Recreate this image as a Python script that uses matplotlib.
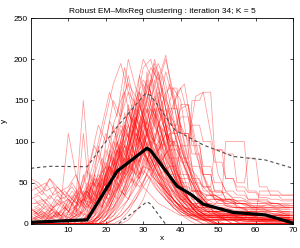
import matplotlib
matplotlib.use("Agg")
import matplotlib.pyplot as plt
import numpy as np

plt.rcParams['font.family'] = ['Liberation Sans', 'DejaVu Sans']

# red curves sampled at x = 0, 2, 4, ..., 70
curves_even = [
    [0, 0, 0, 0, 0, 0, 0, 2, 8, 20, 45, 70, 95, 120, 150, 175, 160, 130, 90, 60, 35, 20, 10, 10, 8, 8, 5, 5, 5, 5, 5, 5, 5, 5, 5, 5],
    [0, 0, 0, 0, 0, 0, 0, 0, 5, 15, 30, 55, 80, 110, 140, 190, 200, 165, 120, 80, 50, 30, 15, 8, 4, 0, 0, 0, 0, 0, 0, 0, 0, 0, 0, 0],
    [5, 0, 0, 0, 0, 0, 0, 0, 0, 10, 25, 40, 70, 90, 130, 110, 150, 185, 140, 95, 70, 40, 25, 12, 12, 10, 10, 10, 8, 8, 8, 8, 8, 6, 6, 6],
    [0, 0, 0, 0, 0, 2, 4, 6, 20, 40, 70, 100, 130, 160, 145, 120, 95, 70, 50, 30, 18, 10, 5, 0, 0, 0, 0, 0, 0, 0, 0, 0, 0, 0, 0, 0],
    [0, 0, 0, 0, 0, 0, 0, 0, 0, 5, 12, 30, 50, 75, 100, 135, 170, 195, 170, 130, 95, 60, 40, 20, 12, 15, 15, 12, 12, 10, 10, 10, 12, 12, 10, 10],
    [0, 0, 0, 0, 0, 0, 2, 5, 12, 30, 55, 90, 120, 105, 140, 125, 100, 80, 60, 40, 28, 15, 10, 5, 0, 0, 0, 0, 0, 0, 0, 0, 0, 0, 0, 0],
    [0, 0, 0, 0, 0, 0, 0, 0, 3, 8, 20, 35, 55, 80, 110, 95, 130, 160, 150, 115, 80, 55, 30, 18, 18, 20, 20, 15, 15, 15, 18, 18, 15, 15, 12, 12],
    [0, 0, 0, 0, 0, 0, 0, 0, 0, 0, 10, 25, 45, 65, 90, 120, 110, 140, 185, 150, 100, 70, 45, 25, 15, 10, 5, 0, 0, 0, 0, 0, 0, 0, 0, 0],
    [10, 5, 0, 0, 0, 0, 0, 0, 10, 25, 60, 85, 110, 135, 120, 100, 75, 55, 35, 20, 12, 5, 0, 0, 0, 0, 0, 0, 0, 0, 0, 0, 0, 0, 0, 0],
    [0, 0, 0, 0, 0, 0, 0, 5, 15, 35, 50, 75, 100, 90, 125, 150, 175, 140, 110, 75, 50, 30, 20, 25, 25, 22, 22, 20, 20, 18, 18, 16, 16, 14, 14, 14],
    [0, 0, 0, 0, 0, 0, 0, 0, 0, 5, 15, 20, 35, 55, 70, 85, 100, 95, 80, 60, 45, 30, 20, 12, 8, 4, 0, 0, 0, 0, 0, 0, 0, 0, 0, 0],
    [0, 0, 0, 0, 0, 0, 0, 0, 0, 10, 30, 50, 60, 80, 75, 95, 85, 70, 55, 40, 25, 15, 8, 4, 4, 6, 6, 4, 4, 3, 3, 3, 2, 2, 2, 2],
    [0, 0, 0, 0, 0, 0, 0, 0, 5, 8, 20, 45, 70, 100, 160, 200, 180, 150, 110, 70, 40, 25, 15, 8, 3, 0, 0, 0, 0, 0, 0, 0, 0, 0, 0, 0],
    [0, 0, 0, 0, 0, 0, 0, 0, 0, 0, 5, 15, 30, 50, 80, 60, 90, 120, 140, 125, 95, 70, 50, 35, 20, 28, 28, 25, 25, 22, 22, 22, 25, 25, 20, 20],
    [0, 0, 0, 0, 0, 0, 0, 0, 0, 0, 0, 10, 25, 40, 55, 70, 65, 90, 110, 100, 80, 60, 40, 30, 20, 15, 10, 5, 0, 0, 0, 0, 0, 0, 0, 0],
    [0, 0, 0, 0, 0, 5, 10, 15, 25, 45, 80, 120, 150, 170, 155, 130, 110, 85, 65, 45, 30, 20, 10, 5, 0, 0, 0, 0, 0, 0, 0, 0, 0, 0, 0, 0],
    [0, 0, 0, 0, 0, 0, 0, 0, 2, 5, 10, 20, 40, 30, 50, 65, 55, 40, 30, 20, 15, 10, 5, 5, 8, 8, 10, 10, 8, 8, 6, 6, 6, 6, 6, 6],
    [0, 0, 0, 0, 0, 0, 0, 0, 0, 0, 5, 20, 35, 60, 85, 110, 140, 125, 90, 65, 40, 25, 15, 10, 5, 0, 0, 0, 0, 0, 0, 0, 0, 0, 0, 0],
    [0, 0, 0, 0, 0, 0, 0, 0, 0, 8, 18, 35, 50, 65, 45, 80, 60, 50, 40, 25, 15, 10, 12, 12, 15, 15, 12, 12, 10, 10, 12, 12, 10, 10, 8, 8],
    [0, 0, 0, 0, 0, 0, 0, 0, 0, 0, 0, 5, 15, 30, 60, 95, 130, 170, 200, 160, 120, 80, 55, 30, 18, 10, 5, 0, 0, 0, 0, 0, 0, 0, 0, 0],
    [55, 50, 40, 45, 30, 35, 25, 40, 30, 55, 70, 60, 90, 110, 80, 130, 100, 75, 60, 45, 30, 25, 20, 15, 15, 10, 10, 8, 8, 5, 5, 5, 5, 5, 5, 5],
    [30, 35, 25, 20, 28, 15, 22, 30, 18, 35, 50, 80, 60, 95, 120, 90, 70, 55, 40, 30, 20, 18, 18, 12, 12, 12, 10, 10, 8, 8, 8, 6, 6, 6, 4, 4],
    [15, 20, 12, 18, 10, 22, 40, 25, 60, 35, 45, 70, 85, 65, 105, 140, 115, 90, 70, 50, 35, 25, 15, 10, 10, 5, 5, 5, 0, 0, 0, 0, 0, 0, 0, 0],
    [20, 10, 15, 8, 25, 110, 60, 30, 45, 55, 40, 65, 50, 75, 60, 45, 35, 25, 20, 15, 10, 10, 10, 5, 5, 5, 5, 5, 5, 5, 5, 5, 5, 5, 5, 5],
    [10, 15, 5, 20, 10, 15, 30, 150, 40, 30, 60, 90, 75, 120, 95, 110, 80, 60, 45, 30, 20, 15, 10, 5, 5, 0, 0, 0, 0, 0, 0, 0, 0, 0, 0, 0],
    [40, 45, 50, 35, 40, 45, 60, 35, 50, 45, 90, 70, 115, 85, 130, 100, 80, 60, 50, 40, 30, 25, 20, 20, 15, 15, 15, 12, 12, 10, 10, 10, 10, 10, 10, 10],
    [5, 8, 3, 10, 5, 12, 8, 110, 20, 50, 35, 60, 100, 135, 115, 155, 130, 110, 85, 60, 40, 30, 20, 15, 10, 8, 6, 5, 4, 3, 3, 3, 3, 3, 3, 3],
    [25, 25, 30, 20, 25, 30, 20, 30, 25, 40, 30, 55, 45, 70, 60, 85, 75, 55, 40, 30, 22, 15, 10, 8, 8, 8, 8, 6, 6, 6, 6, 6, 4, 4, 4, 4],
    [12, 18, 8, 14, 6, 30, 15, 60, 25, 95, 50, 120, 80, 145, 100, 125, 90, 65, 45, 30, 20, 12, 8, 5, 3, 0, 0, 0, 0, 0, 0, 0, 0, 0, 0, 0],
    [0, 0, 0, 0, 0, 0, 0, 0, 0, 0, 0, 5, 10, 20, 35, 50, 70, 95, 130, 165, 150, 90, 50, 30, 20, 20, 15, 15, 10, 10, 10, 10, 8, 8, 8, 8],
    [0, 0, 0, 0, 0, 0, 0, 0, 0, 0, 5, 10, 20, 30, 45, 60, 80, 100, 120, 110, 140, 145, 100, 60, 35, 25, 25, 20, 20, 15, 15, 15, 12, 12, 10, 10],
    [0, 0, 0, 0, 0, 0, 0, 0, 0, 0, 0, 0, 5, 15, 30, 50, 75, 90, 110, 95, 120, 100, 155, 160, 110, 60, 40, 30, 25, 25, 20, 20, 20, 18, 18, 18],
    [0, 0, 0, 0, 0, 0, 0, 0, 0, 0, 0, 5, 10, 20, 30, 45, 60, 75, 85, 100, 90, 70, 60, 45, 35, 30, 28, 25, 25, 20, 20, 22, 22, 20, 20, 20],
    [0, 0, 0, 0, 0, 0, 0, 0, 0, 0, 10, 30, 55, 90, 125, 160, 190, 175, 205, 150, 105, 70, 40, 25, 30, 30, 25, 25, 20, 20, 18, 18, 15, 15, 12, 12],
    [8, 4, 12, 6, 15, 5, 20, 10, 35, 60, 45, 100, 85, 140, 120, 170, 145, 120, 95, 70, 55, 40, 30, 20, 12, 12, 8, 8, 5, 5, 3, 3, 0, 0, 0, 0],
    [0, 0, 0, 0, 0, 0, 0, 0, 0, 0, 0, 0, 0, 5, 15, 30, 55, 85, 120, 145, 165, 130, 85, 60, 40, 38, 38, 32, 32, 28, 28, 26, 26, 24, 24, 22],
    [18, 12, 22, 16, 8, 14, 35, 20, 45, 30, 75, 55, 95, 75, 110, 90, 70, 50, 35, 25, 18, 12, 8, 6, 6, 4, 4, 4, 2, 2, 2, 2, 2, 2, 2, 2],
    [0, 0, 0, 0, 0, 5, 10, 25, 50, 90, 130, 170, 195, 160, 120, 90, 65, 45, 30, 20, 12, 8, 5, 0, 0, 0, 0, 0, 0, 0, 0, 0, 0, 0, 0, 0],
    [5, 10, 5, 15, 10, 20, 30, 55, 80, 120, 100, 150, 130, 180, 140, 110, 80, 60, 40, 25, 15, 10, 5, 5, 5, 5, 5, 5, 5, 5, 5, 5, 5, 5, 5, 5],
    [0, 0, 0, 0, 0, 0, 5, 20, 45, 75, 110, 90, 140, 200, 165, 130, 95, 70, 45, 30, 20, 12, 12, 10, 10, 10, 8, 8, 8, 8, 6, 6, 6, 6, 6, 6],
]

# red curves sampled at x = 1, 3, 5, ..., 69
curves_odd = [
    [30, 20, 35, 25, 40, 30, 45, 25, 60, 40, 85, 60, 120, 90, 150, 110, 140, 80, 60, 35, 25, 20, 20, 15, 15, 12, 12, 10, 10, 10, 8, 8, 8, 8, 8],
    [0, 0, 0, 0, 0, 0, 5, 15, 40, 20, 70, 45, 110, 80, 160, 120, 175, 130, 90, 50, 30, 20, 10, 5, 0, 0, 0, 0, 0, 0, 0, 0, 0, 0, 0],
    [10, 15, 8, 12, 20, 10, 30, 15, 50, 30, 60, 100, 75, 130, 95, 170, 120, 150, 85, 60, 40, 25, 15, 15, 15, 10, 10, 10, 8, 8, 8, 6, 6, 6, 6],
    [0, 0, 0, 0, 0, 0, 0, 10, 25, 55, 35, 80, 55, 105, 75, 125, 95, 70, 110, 65, 35, 20, 15, 10, 10, 10, 10, 10, 10, 5, 5, 5, 5, 5, 5],
    [5, 10, 5, 15, 5, 25, 10, 40, 20, 60, 35, 90, 60, 140, 100, 185, 130, 95, 60, 40, 25, 15, 10, 5, 5, 0, 0, 0, 0, 0, 0, 0, 0, 0, 0],
    [0, 0, 0, 0, 0, 0, 0, 0, 5, 15, 30, 55, 80, 65, 120, 150, 195, 160, 120, 75, 45, 30, 20, 20, 20, 18, 18, 15, 15, 15, 15, 15, 12, 12, 12],
    [45, 35, 55, 40, 30, 50, 35, 65, 45, 80, 55, 100, 70, 95, 60, 80, 55, 45, 30, 25, 20, 15, 15, 10, 10, 8, 8, 6, 6, 6, 4, 4, 4, 4, 4],
    [0, 0, 0, 0, 5, 10, 20, 35, 25, 50, 40, 75, 60, 95, 70, 110, 85, 60, 45, 30, 20, 15, 30, 30, 25, 25, 20, 20, 18, 18, 15, 15, 15, 15, 15],
    [0, 0, 0, 0, 0, 0, 0, 0, 10, 30, 50, 85, 120, 95, 160, 135, 190, 145, 100, 65, 40, 25, 15, 10, 5, 5, 5, 5, 5, 5, 5, 5, 5, 5, 5],
    [20, 25, 15, 30, 20, 35, 20, 45, 30, 65, 45, 75, 95, 70, 115, 90, 125, 95, 70, 50, 35, 25, 25, 20, 20, 15, 15, 12, 12, 10, 10, 10, 10, 10, 10],
    [0, 0, 0, 0, 0, 0, 0, 0, 0, 10, 20, 40, 65, 90, 75, 110, 100, 135, 170, 140, 95, 60, 40, 30, 30, 28, 28, 25, 25, 22, 22, 20, 20, 18, 18],
    [0, 0, 0, 0, 0, 5, 10, 25, 55, 35, 90, 65, 135, 105, 180, 150, 200, 165, 115, 70, 40, 20, 10, 5, 0, 0, 0, 0, 0, 0, 0, 0, 0, 0, 0],
    [15, 8, 20, 10, 25, 15, 30, 20, 40, 55, 40, 70, 50, 85, 60, 75, 50, 40, 30, 20, 15, 10, 8, 8, 8, 6, 6, 6, 6, 4, 4, 4, 4, 4, 4],
    [0, 0, 0, 0, 0, 0, 0, 5, 10, 25, 45, 30, 70, 50, 95, 75, 120, 90, 130, 100, 70, 50, 35, 25, 20, 20, 15, 15, 12, 12, 12, 10, 10, 10, 10],
    [0, 0, 0, 0, 0, 0, 0, 0, 0, 0, 10, 25, 45, 70, 90, 115, 100, 140, 120, 160, 170, 115, 70, 45, 35, 30, 30, 25, 25, 20, 20, 20, 20, 20, 20],
    [35, 40, 30, 45, 35, 25, 40, 30, 55, 45, 70, 55, 90, 65, 105, 80, 60, 45, 35, 25, 20, 18, 18, 15, 15, 12, 12, 10, 10, 10, 8, 8, 8, 8, 8],
    [0, 0, 0, 0, 0, 0, 0, 10, 20, 40, 65, 90, 70, 115, 145, 110, 155, 125, 95, 60, 35, 25, 20, 15, 12, 10, 10, 8, 8, 8, 6, 6, 6, 6, 6],
    [8, 12, 6, 10, 4, 15, 8, 25, 12, 45, 25, 65, 40, 85, 55, 100, 70, 85, 55, 40, 25, 18, 12, 10, 10, 8, 8, 6, 6, 6, 5, 5, 5, 5, 5],
    [0, 0, 0, 0, 0, 0, 0, 0, 5, 20, 45, 75, 110, 145, 120, 175, 140, 110, 80, 55, 35, 25, 20, 35, 35, 30, 30, 25, 25, 20, 20, 18, 18, 15, 15],
    [25, 30, 20, 35, 25, 40, 25, 50, 35, 70, 50, 90, 65, 115, 85, 140, 100, 75, 55, 40, 30, 40, 40, 35, 35, 30, 30, 28, 28, 25, 25, 25, 22, 22, 22],
    [5, 3, 8, 4, 10, 6, 15, 10, 30, 20, 55, 40, 80, 60, 100, 75, 110, 90, 65, 45, 30, 20, 15, 10, 10, 8, 8, 8, 5, 5, 5, 5, 5, 5, 0],
    [50, 40, 55, 45, 35, 45, 30, 40, 25, 35, 30, 45, 35, 55, 45, 60, 45, 35, 25, 20, 15, 15, 12, 12, 10, 10, 10, 8, 8, 8, 8, 6, 6, 6, 6],
    [0, 0, 0, 0, 0, 0, 0, 0, 0, 10, 25, 50, 85, 120, 100, 150, 125, 180, 135, 100, 70, 45, 30, 20, 15, 15, 12, 12, 10, 10, 10, 10, 8, 8, 8],
    [12, 20, 15, 25, 18, 30, 22, 40, 28, 50, 70, 55, 95, 70, 120, 95, 140, 105, 80, 55, 35, 25, 20, 15, 15, 12, 12, 12, 10, 10, 10, 10, 10, 10, 10],
    [0, 0, 0, 0, 0, 0, 0, 0, 0, 0, 10, 20, 35, 55, 80, 105, 130, 165, 140, 110, 80, 55, 35, 25, 20, 18, 18, 16, 16, 14, 14, 14, 12, 12, 12],
    [0, 0, 0, 0, 0, 0, 0, 5, 15, 30, 20, 50, 35, 70, 55, 90, 70, 55, 40, 30, 20, 15, 10, 8, 8, 6, 6, 5, 5, 5, 5, 3, 3, 3, 3],
    [0, 0, 0, 0, 0, 8, 20, 45, 80, 120, 160, 130, 190, 150, 115, 140, 100, 70, 45, 30, 20, 12, 8, 5, 5, 5, 5, 5, 3, 3, 3, 3, 3, 3, 3],
    [10, 6, 14, 8, 20, 12, 35, 60, 95, 70, 125, 105, 160, 120, 90, 110, 75, 50, 35, 25, 15, 10, 10, 10, 8, 8, 8, 8, 6, 6, 6, 6, 6, 6, 6],
]

# late curves with flat steps, sampled at x_steps
x_steps = [34, 36, 37, 39, 40, 42, 43, 45, 46, 48, 49, 51, 52, 54, 55, 57, 58, 60, 61, 63, 64, 66, 67, 69, 70]
curves_steps = [
    [150, 120, 95, 95, 60, 60, 40, 40, 25, 25, 20, 20, 15, 15, 15, 15, 10, 10, 10, 10, 8, 8, 8, 8, 8],
    [130, 160, 165, 165, 110, 110, 70, 70, 45, 45, 30, 30, 25, 25, 20, 20, 20, 20, 18, 18, 18, 18, 15, 15, 15],
    [90, 100, 120, 120, 145, 145, 100, 100, 60, 60, 40, 40, 30, 30, 28, 28, 25, 25, 25, 25, 22, 22, 20, 20, 20],
    [70, 85, 90, 90, 80, 80, 150, 150, 160, 160, 90, 90, 55, 55, 40, 40, 30, 30, 30, 30, 25, 25, 25, 25, 25],
    [60, 55, 50, 50, 45, 45, 40, 40, 35, 35, 35, 35, 100, 100, 100, 100, 40, 40, 35, 35, 35, 35, 30, 30, 30],
    [80, 70, 60, 60, 55, 55, 50, 50, 45, 45, 90, 90, 85, 85, 50, 50, 80, 80, 45, 45, 35, 35, 35, 35, 35],
    [120, 110, 80, 80, 50, 50, 30, 30, 20, 20, 12, 12, 12, 12, 8, 8, 8, 8, 5, 5, 5, 5, 5, 5, 5],
    [100, 95, 110, 110, 130, 130, 95, 95, 70, 70, 50, 50, 40, 40, 35, 35, 30, 30, 28, 28, 25, 25, 22, 22, 22],
    [50, 45, 40, 40, 30, 30, 25, 25, 20, 20, 15, 15, 12, 12, 10, 10, 10, 10, 40, 40, 40, 40, 35, 35, 35],
    [140, 120, 100, 100, 75, 75, 55, 55, 40, 40, 30, 30, 22, 22, 18, 18, 15, 15, 12, 12, 10, 10, 10, 10, 10],
    [60, 65, 70, 70, 95, 95, 120, 120, 100, 100, 75, 75, 55, 55, 45, 45, 38, 38, 32, 32, 30, 30, 28, 28, 28],
    [110, 130, 140, 140, 110, 110, 85, 85, 60, 60, 40, 40, 30, 30, 20, 20, 15, 15, 10, 10, 5, 5, 0, 0, 0],
]

# robust mean curve of the cluster and the +/- band around it
mean_x = [0, 15, 23, 31, 32, 39, 43, 46, 54, 62.6, 70]
mean_y = [2, 5, 64, 92, 89, 46, 35, 24, 14, 11, 1]
upper_x = [0, 5, 15, 23, 30.6, 32, 38.5, 46, 54, 62.6, 70]
upper_y = [67.6, 70, 69.5, 118, 158.6, 156, 114, 96, 82, 77.7, 67.6]
lower_x = [15, 23, 31, 32, 39, 46]
lower_y = [-60, -1, 27, 24, -19, -41]

xticks = [10, 20, 30, 40, 50, 60, 70]
yticks = [0, 50, 100, 150, 200, 250]

fig = plt.figure(figsize=(3.0, 2.48), dpi=100)
ax = fig.add_axes([0.103, 0.097, 0.874, 0.830])

for c in curves_even:
    ax.plot(np.arange(len(c)) * 2, c, color='red', alpha=0.4, lw=0.55)
for c in curves_odd:
    ax.plot(np.arange(len(c)) * 2 + 1, c, color='red', alpha=0.4, lw=0.55)
for c in curves_steps:
    ax.plot(x_steps, c, color='red', alpha=0.4, lw=0.55)

ax.plot(upper_x, upper_y, color='0.3', lw=0.8, ls=(0, (3, 2.5)))
ax.plot(lower_x, lower_y, color='0.3', lw=0.8, ls=(0, (3, 2.5)))
ax.plot(mean_x, mean_y, color='black', lw=2.3, solid_capstyle='round')

ax.set_xlim(0, 70)
ax.set_ylim(0, 250)
ax.set_xticks(xticks)
ax.set_yticks(yticks)
ax.tick_params(direction='in', length=2.5, width=0.5, labelsize=6, top=True, right=True, pad=2)
for s in ax.spines.values():
    s.set_linewidth(0.6)
ax.set_xlabel('x', fontsize=6, labelpad=1)
ax.set_ylabel('y', fontsize=6, labelpad=4)
ax.set_title('Robust EM\u2013MixReg clustering : iteration 34; K = 5', fontsize=6, pad=4)

fig.savefig('out.png', dpi=100)
